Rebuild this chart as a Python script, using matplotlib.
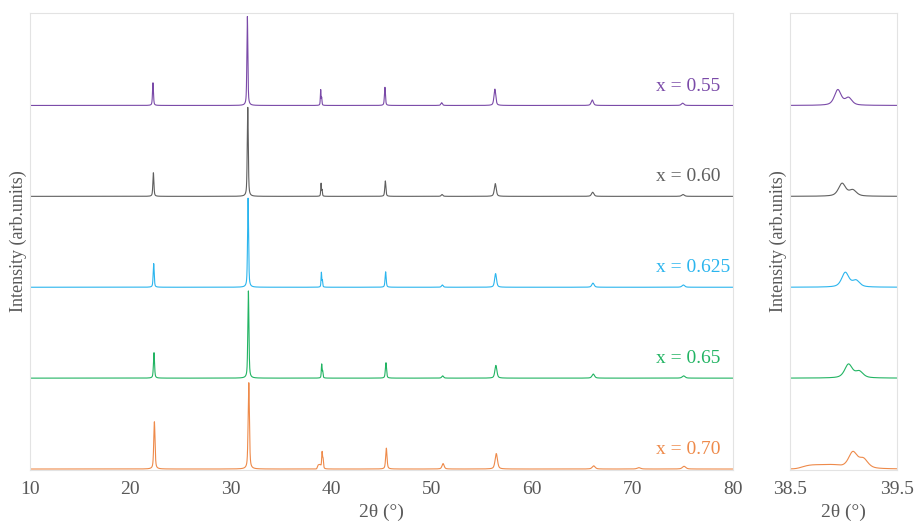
import numpy as np
import matplotlib
matplotlib.use('Agg')
import matplotlib.pyplot as plt

plt.rcParams['font.family'] = ['Liberation Serif', 'DejaVu Serif']

# samples, top to bottom
labels = ['x = 0.55', 'x = 0.60', 'x = 0.625', 'x = 0.65', 'x = 0.70']
colors = ['#7a4aa8', '#5f5f5f', '#2bb5ee', '#22b463', '#ee8a4a']

# peak positions (2θ, x = 0.55) and per-sample shift
peak_pos = [22.25, 31.65, 38.95, 39.05, 45.35, 51.0, 56.3, 66.0, 70.5, 75.0]
shift = [0.0, 0.04, 0.07, 0.10, 0.14]

# relative intensities
heights = [
    [0.25, 0.98, 0.17, 0.08, 0.20, 0.03, 0.18, 0.06, 0.00, 0.025],
    [0.26, 0.98, 0.14, 0.065, 0.17, 0.02, 0.14, 0.045, 0.00, 0.02],
    [0.26, 0.98, 0.16, 0.07, 0.17, 0.025, 0.15, 0.045, 0.00, 0.025],
    [0.28, 0.96, 0.15, 0.07, 0.17, 0.025, 0.14, 0.045, 0.00, 0.025],
    [0.52, 0.95, 0.18, 0.10, 0.23, 0.06, 0.17, 0.035, 0.015, 0.03],
]
fwhm = [0.075, 0.08, 0.08, 0.085, 0.10]
width_factor = [1.5, 1.5, 1.0, 1.0, 1.6, 2.5, 2.8, 3.5, 4.0, 4.0]

# low broad shoulder left of the 39° peak in x = 0.70
hump_pos, hump_h, hump_w = 38.80, 0.045, 0.36


def profile(x, i):
    y = np.zeros_like(x)
    for p, h, wf in zip(peak_pos, heights[i], width_factor):
        c = p + shift[i]
        w = fwhm[i] * wf
        lor = 1 / (1 + ((x - c) / (w / 2)) ** 2)
        gau = np.exp(-np.log(2) * ((x - c) / (w / 2)) ** 2)
        y += h * (0.55 * lor + 0.45 * gau)
    if i == 4:
        y += hump_h * np.exp(-np.log(2) * ((x - hump_pos) / (hump_w / 2)) ** 4)
    return y


fig = plt.figure(figsize=(9.14, 5.31), dpi=100)
ax1 = fig.add_axes([0.0328, 0.115, 0.769, 0.861])
ax2 = fig.add_axes([0.864, 0.115, 0.117, 0.861])

x_full = np.arange(10, 80.001, 0.004)
x_zoom = np.arange(38.5, 39.5001, 0.002)

n = len(labels)
for i in range(n):
    off = n - 1 - i
    ax1.plot(x_full, profile(x_full, i) + off, color=colors[i], lw=0.8)
    ax2.plot(x_zoom, profile(x_zoom, i) + off, color=colors[i], lw=0.8)
    ax1.text(72.35, off + 0.12, labels[i], color=colors[i], fontsize=14,
             ha='left', va='bottom')

ax1.set_xlim(10, 80)
ax2.set_xlim(38.5, 39.5)
for ax in (ax1, ax2):
    ax.set_ylim(-0.01, 5.02)
    ax.set_yticks([])
    ax.tick_params(axis='x', length=0, labelsize=14, pad=8, colors='#595959')
    for s in ax.spines.values():
        s.set_color('#e3e3e3')
        s.set_linewidth(0.8)
    ax.set_xlabel('2θ (°)', fontsize=14, color='#595959')
    ax.set_ylabel('Intensity (arb.units)', fontsize=13, color='#595959', labelpad=2)

ax1.set_xticks([10, 20, 30, 40, 50, 60, 70, 80])
ax2.set_xticks([38.5, 39.5])
ax2.set_xticklabels(['38.5', '39.5'])

fig.savefig('out.png', dpi=100)
